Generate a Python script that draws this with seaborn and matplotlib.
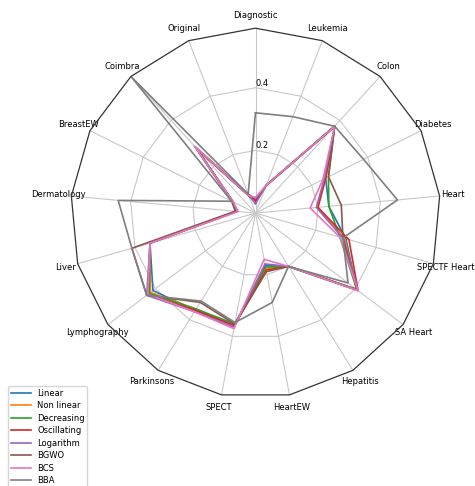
import numpy as np
import pandas as pd
import matplotlib
matplotlib.use("Agg")
import matplotlib.pyplot as plt
import seaborn as sns
from matplotlib.patches import RegularPolygon
from matplotlib.path import Path
from matplotlib.projections import register_projection
from matplotlib.projections.polar import PolarAxes
from matplotlib.spines import Spine
from matplotlib.transforms import Affine2D

# Datasets, in counter-clockwise order starting at the top
categories = ["Diagnostic", "Original", "Coimbra", "BreastEW", "Dermatology",
              "Liver", "Lymphography", "Parkinsons", "SPECT", "HeartEW",
              "Hepatitis", "SA Heart", "SPECTF Heart", "Heart", "Diabetes",
              "Colon", "Leukemia"]

methods = ["Linear", "Non linear", "Decreasing", "Oscillating",
           "Logarithm", "BGWO", "BCS", "BBA"]

linear      = [0.040, 0.060, 0.280, 0.080, 0.060, 0.350, 0.410, 0.365, 0.365,
               0.170, 0.200, 0.405, 0.300, 0.235, 0.250, 0.375, 0.095]
non_linear  = [0.040, 0.060, 0.280, 0.080, 0.060, 0.350, 0.420, 0.360, 0.365,
               0.180, 0.200, 0.405, 0.295, 0.200, 0.250, 0.375, 0.095]
decreasing  = [0.040, 0.060, 0.280, 0.080, 0.060, 0.350, 0.425, 0.360, 0.360,
               0.175, 0.200, 0.405, 0.280, 0.235, 0.260, 0.375, 0.095]
oscillating = [0.040, 0.060, 0.280, 0.080, 0.060, 0.350, 0.430, 0.365, 0.365,
               0.185, 0.200, 0.410, 0.310, 0.200, 0.250, 0.375, 0.095]
logarithm   = [0.030, 0.060, 0.280, 0.080, 0.060, 0.350, 0.435, 0.370, 0.370,
               0.165, 0.200, 0.410, 0.290, 0.195, 0.245, 0.375, 0.095]
bgwo        = [0.045, 0.065, 0.285, 0.085, 0.065, 0.410, 0.435, 0.335, 0.360,
               0.190, 0.200, 0.405, 0.290, 0.275, 0.260, 0.375, 0.095]
bcs         = [0.050, 0.060, 0.290, 0.080, 0.055, 0.350, 0.430, 0.370, 0.375,
               0.150, 0.200, 0.410, 0.280, 0.175, 0.240, 0.375, 0.095]
bba         = [0.320, 0.065, 0.590, 0.085, 0.440, 0.410, 0.435, 0.330, 0.355,
               0.290, 0.200, 0.370, 0.290, 0.455, 0.385, 0.375, 0.330]

series = [linear, non_linear, decreasing, oscillating, logarithm, bgwo, bcs, bba]

r_ticks = [0.2, 0.4]

num_vars = len(categories)
theta = np.linspace(0, 2 * np.pi, num_vars, endpoint=False)


def radar_factory(n):
    """Register a polar projection whose frame and r-grid are n-gons."""

    class RadarTransform(PolarAxes.PolarTransform):
        def transform_path_non_affine(self, path):
            # gridlines carry interpolation steps; turn them into polygons
            if path._interpolation_steps > 1:
                path = path.interpolated(n)
            return Path(self.transform(path.vertices), path.codes)

    class RadarAxes(PolarAxes):
        name = "radar"
        PolarTransform = RadarTransform

        def __init__(self, *args, **kwargs):
            super().__init__(*args, **kwargs)
            self.set_theta_zero_location("N")

        def _gen_axes_patch(self):
            return RegularPolygon((0.5, 0.5), n, radius=0.5, edgecolor="k")

        def _gen_axes_spines(self):
            spine = Spine(axes=self, spine_type="circle",
                          path=Path.unit_regular_polygon(n))
            spine.set_transform(Affine2D().scale(0.5).translate(0.5, 0.5)
                                + self.transAxes)
            return {"polar": spine}

    register_projection(RadarAxes)


radar_factory(num_vars)

# long-form table; each polygon is closed by repeating its first point at 2*pi
closed_theta = np.append(theta, 2 * np.pi)
rows = []
for name, vals in zip(methods, series):
    closed_vals = list(vals) + [vals[0]]
    for t, v in zip(closed_theta, closed_vals):
        rows.append({"angle": t, "value": v, "method": name})
df = pd.DataFrame(rows)

fig = plt.figure(figsize=(4.75, 4.86), dpi=100)
ax = fig.add_axes([0.1484, 0.181, 0.779, 0.761], projection="radar")

palette = sns.color_palette("tab10", len(methods))
sns.lineplot(data=df, x="angle", y="value", hue="method", hue_order=methods,
             palette=palette, sort=False, estimator=None, linewidth=1.2,
             ax=ax)

ax.set_ylim(0, max(max(s) for s in series))
ax.set_thetagrids(np.degrees(theta), categories, fontsize=6)
ax.tick_params(axis="x", pad=-1.2)
ax.set_rgrids(r_ticks, labels=[f"{t:.1f}" for t in r_ticks], angle=0,
              fontsize=6)
ax.set_xlabel("")
ax.set_ylabel("")
ax.grid(True, color="#c8c8c8", linewidth=0.8)
ax.spines["polar"].set_color("#333333")
ax.spines["polar"].set_linewidth(0.9)

sns.move_legend(ax, "upper left", bbox_to_anchor=(-0.169, 0.032),
                title=None, fontsize=6, borderaxespad=0, handlelength=2.4,
                labelspacing=0.42, borderpad=0.3, frameon=True)

fig.savefig("out.png", dpi=100)
